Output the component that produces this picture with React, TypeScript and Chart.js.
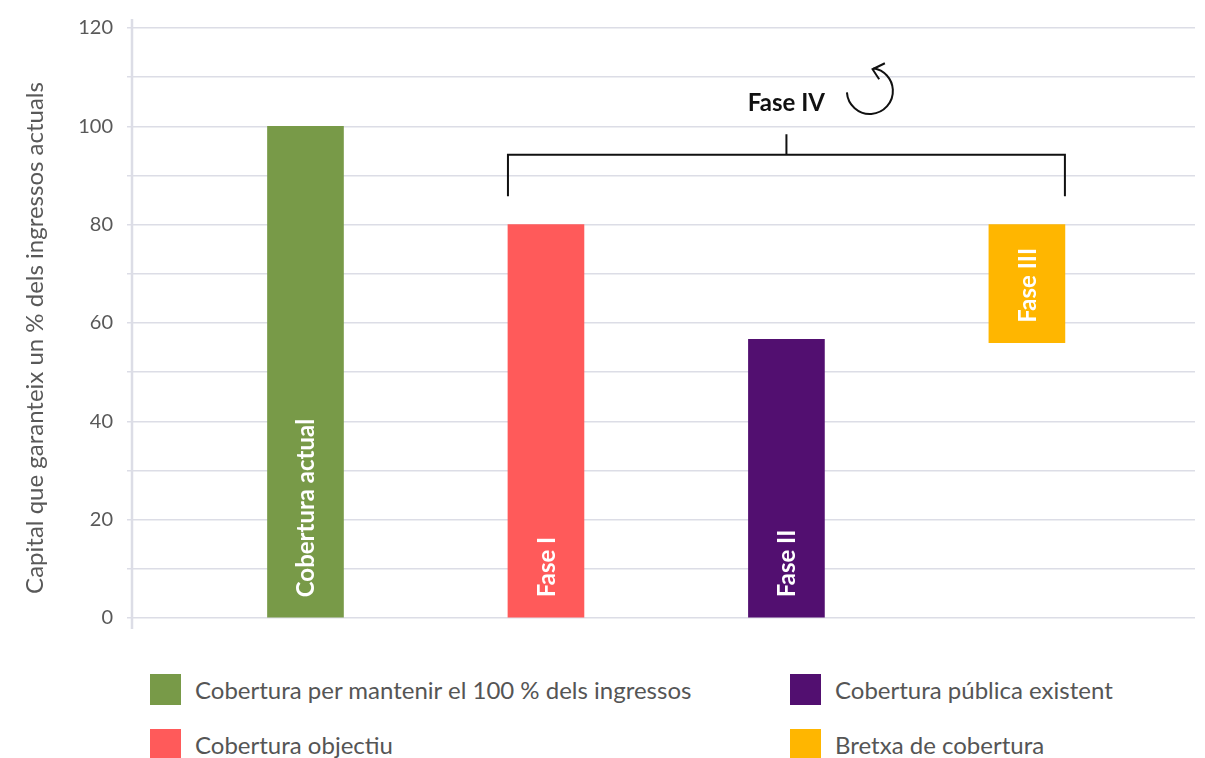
import React, { useEffect, useRef } from 'react';
import { Chart, registerables } from 'chart.js';

Chart.register(...registerables);

// ---- data ----
const categories = ['Cobertura actual', 'Fase I', 'Fase II', 'Fase III'];
const seriesLabels = [
  'Cobertura per mantenir el 100 % dels ingressos',
  'Cobertura objectiu',
  'Cobertura pública existent',
  'Bretxa de cobertura',
];
const barStarts = [0, 0, 0, 56];
const barEnds = [100, 80, 56.7, 80];
const colors = ['#789a48', '#ff5a5a', '#520f70', '#ffb600'];
const yTickStep = 10;
const yLabelStep = 20;
const yMin = 0;
const yMax = 120;
const yTitle = 'Capital que garanteix un % dels ingressos actuals';
const bracketLabel = 'Fase IV';

// annotation levels (in y-axis value units)
const bracketTopValue = 94.2;
const bracketEndValue = 85.8;
const bracketStemValue = 98.4;
const bracketLabelValue = 104.6;
const arrowCenterX = 2.347;
const arrowCenterY = 107.2;

const FONT = 'Lato, "Open Sans", sans-serif';
const TEXT_GRAY = '#595959';
const GRID = '#dcdde6';

const overlayPlugin = {
  id: 'overlay',
  beforeDatasetsDraw(chart: any) {
    const { ctx, chartArea } = chart;
    // extended y-axis line
    ctx.save();
    ctx.strokeStyle = GRID;
    ctx.lineWidth = 2.5;
    ctx.beginPath();
    ctx.moveTo(chartArea.left, chartArea.top - 9);
    ctx.lineTo(chartArea.left, chartArea.bottom + 11);
    ctx.stroke();
    ctx.restore();

    // y title
    ctx.save();
    ctx.translate(35, (chartArea.top + chartArea.bottom) / 2 + 15);
    ctx.rotate(-Math.PI / 2);
    ctx.font = `24px ${FONT}`;
    ctx.fillStyle = TEXT_GRAY;
    ctx.textAlign = 'center';
    ctx.textBaseline = 'middle';
    ctx.fillText(yTitle, 0, 0);
    ctx.restore();
  },
  afterDatasetsDraw(chart: any) {
    const { ctx } = chart;
    const yScale = chart.scales.y;
    const xScale = chart.scales.x;

    // labels inside bars
    chart.data.datasets.forEach((_: any, i: number) => {
      const meta = chart.getDatasetMeta(i);
      meta.data.forEach((el: any) => {
        ctx.save();
        ctx.translate(el.x, el.base - 20);
        ctx.rotate(-Math.PI / 2);
        ctx.font = `bold 24px ${FONT}`;
        ctx.fillStyle = '#ffffff';
        ctx.textAlign = 'left';
        ctx.textBaseline = 'middle';
        ctx.fillText(categories[i], 0, 1);
        ctx.restore();
      });
    });

    // bracket
    const redEl: any = chart.getDatasetMeta(1).data[0];
    const yelEl: any = chart.getDatasetMeta(3).data[0];
    const left = redEl.x - redEl.width / 2;
    const right = yelEl.x + yelEl.width / 2;
    const mid = (left + right) / 2;
    const yTop = yScale.getPixelForValue(bracketTopValue);
    const yEnd = yScale.getPixelForValue(bracketEndValue);
    const yStem = yScale.getPixelForValue(bracketStemValue);
    ctx.save();
    ctx.strokeStyle = '#111111';
    ctx.lineWidth = 2;
    ctx.beginPath();
    ctx.moveTo(left, yEnd);
    ctx.lineTo(left, yTop);
    ctx.lineTo(right, yTop);
    ctx.lineTo(right, yEnd);
    ctx.moveTo(mid, yTop);
    ctx.lineTo(mid, yStem);
    ctx.stroke();

    ctx.font = `bold 24px ${FONT}`;
    ctx.fillStyle = '#111111';
    ctx.textAlign = 'center';
    ctx.textBaseline = 'middle';
    ctx.fillText(bracketLabel, mid, yScale.getPixelForValue(bracketLabelValue));

    // circular arrow
    const cx = xScale.getPixelForValue(arrowCenterX);
    const cy = yScale.getPixelForValue(arrowCenterY);
    const r = 23;
    ctx.beginPath();
    ctx.arc(cx, cy, r, Math.PI * 0.98, -Math.PI * 0.45, true);
    ctx.stroke();
    const tipX = cx + 2.7;
    const tipY = cy - 21.7;
    ctx.beginPath();
    ctx.moveTo(cx + 15, cy - 27.7);
    ctx.lineTo(tipX, tipY);
    ctx.lineTo(cx + 9.3, cy - 11.7);
    ctx.stroke();
    ctx.restore();
  },
};

export default function App() {
  const canvasRef = useRef<HTMLCanvasElement | null>(null);

  useEffect(() => {
    document.body.style.margin = '0';
    let chart: Chart | null = null;
    let cancelled = false;
    const make = () => {
      if (cancelled || !canvasRef.current) return;
      chart = new Chart(canvasRef.current, {
        type: 'bar',
        data: {
          datasets: seriesLabels.map((label, i) => ({
            label,
            data: [{ x: i, y: [barStarts[i], barEnds[i]] }],
            backgroundColor: colors[i],
            borderWidth: 0,
            barThickness: 76,
            grouped: false,
          })) as any,
        },
        options: {
          animation: false,
          responsive: false,
          maintainAspectRatio: false,
          layout: { padding: { top: 28, right: 10, bottom: 32, left: 0 } },
          plugins: {
            legend: { display: false },
            tooltip: { enabled: false },
            title: { display: false },
          },
          scales: {
            x: {
              type: 'linear',
              offset: false,
              min: -0.7214,
              max: 3.699,
              display: false,
              grid: { offset: false },
            },
            y: {
              min: yMin,
              max: yMax,
              afterFit: (scale: any) => {
                scale.width = 132;
              },
              border: { display: false },
              grid: {
                color: GRID,
                lineWidth: 1.5,
                tickLength: 5,
                drawTicks: true,
              },
              ticks: {
                stepSize: yTickStep,
                padding: 14,
                color: TEXT_GRAY,
                font: { family: FONT, size: 20 },
                callback: (v: any) => (Number(v) % yLabelStep === 0 ? String(v) : ''),
              },
            },
          },
        } as any,
        plugins: [overlayPlugin],
      });
    };
    const fontsReady = (document as any).fonts
      ? Promise.all([
          (document as any).fonts.load('20px Lato'),
          (document as any).fonts.load('bold 20px Lato'),
        ]).catch(() => null)
      : Promise.resolve(null);
    fontsReady.then(make);
    return () => {
      cancelled = true;
      if (chart) chart.destroy();
    };
  }, []);

  const legendItem = (i: number, left: number, top: number) => (
    <div
      key={i}
      style={{
        position: 'absolute',
        left,
        top,
        display: 'flex',
        alignItems: 'center',
        height: 31,
      }}
    >
      <div style={{ width: 31, height: 31, background: colors[i], marginRight: 14 }} />
      <span style={{ fontFamily: FONT, fontSize: 24, color: '#555555', whiteSpace: 'nowrap' }}>
        {seriesLabels[i]}
      </span>
    </div>
  );

  return (
    <div style={{ position: 'absolute', left: 0, top: 0, width: 1205, height: 758, background: '#fff', overflow: 'hidden' }}>
      <canvas ref={canvasRef} width={1205} height={650} style={{ display: 'block', width: 1205, height: 650 }} />
      {legendItem(0, 150, 674)}
      {legendItem(1, 150, 729)}
      {legendItem(2, 790, 674)}
      {legendItem(3, 790, 729)}
    </div>
  );
}
